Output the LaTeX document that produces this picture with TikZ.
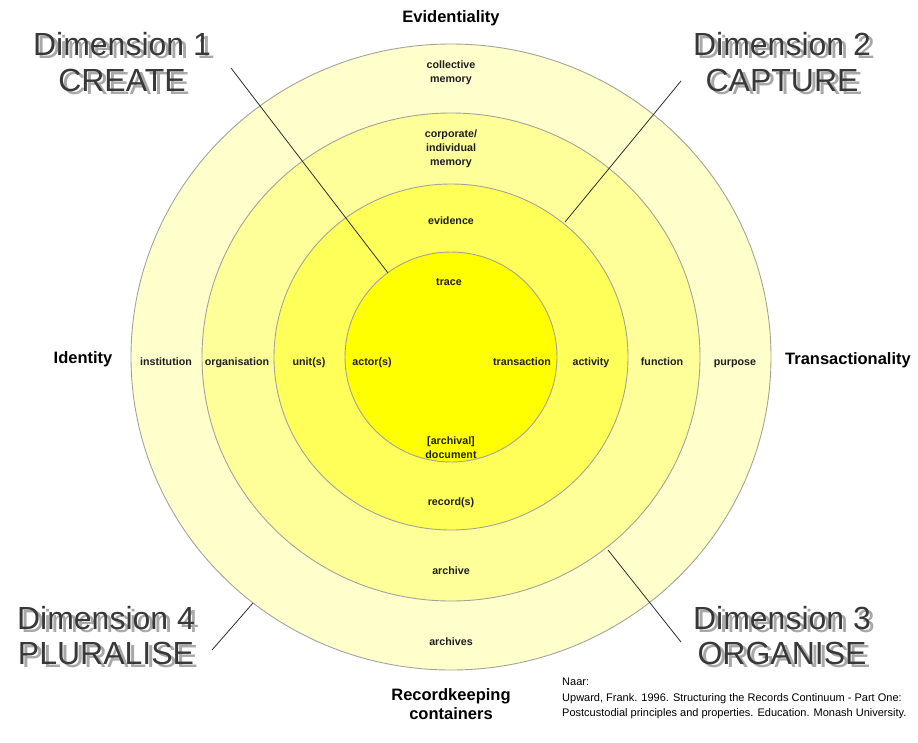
\documentclass[tikz,border=0pt]{standalone}
\usepackage{fontspec}
\setmainfont{Liberation Sans}
\usetikzlibrary{calc}

\definecolor{ringOuter}{HTML}{FFFFCC}
\definecolor{ringSecond}{HTML}{FFFF99}
\definecolor{ringThird}{HTML}{FFFF5A}
\definecolor{ringCore}{HTML}{FFFF00}
\definecolor{ringEdge}{HTML}{A3A39A}
\definecolor{dimFront}{HTML}{383838}
\definecolor{dimShadow}{HTML}{A8A8A8}
\definecolor{labelInk}{HTML}{1E1E1E}
\definecolor{leader}{HTML}{2E2E2E}

\tikzset{
  ring/.style={draw=ringEdge, line width=0.9pt},
  lbl/.style={inner sep=0pt, text=labelInk, font=\fontsize{10.7}{14}\selectfont\bfseries, align=center},
  lblbase/.style={lbl, anchor=base},
  axis/.style={inner sep=0pt, text=black, font=\fontsize{16.5}{19}\selectfont\bfseries, align=center},
  dimcap/.style={inner sep=0pt, anchor=base, text=dimFront, font=\fontsize{32}{36}\selectfont},
  leaderline/.style={draw=leader, line width=0.8pt},
  cite/.style={inner sep=0pt, anchor=north west, align=left, font=\fontsize{11}{15.5}\selectfont, text=black}
}

% caption text with a grey drop shadow set behind it
\newcommand\shadowed[1]{%
  \rlap{\kern4pt\raisebox{-3pt}{\textcolor{dimShadow}{#1}}}#1}

\begin{document}
\begin{tikzpicture}[x=1pt, y=-1pt]
\useasboundingbox (0,0) rectangle (918,742);
\fill[white] (0,0) rectangle (918,742);

% concentric continuum rings
\coordinate (c) at (451,357);
\draw[ring, fill=ringOuter]  (c) ellipse [x radius=320pt, y radius=313pt];
\draw[ring, fill=ringSecond] (c) ellipse [x radius=249pt, y radius=244pt];
\draw[ring, fill=ringThird]  (c) ellipse [x radius=177pt, y radius=173pt];
\draw[ring, fill=ringCore]   (c) ellipse [x radius=106pt, y radius=105pt];

% leader lines from the dimension captions to their rings
\coordinate (l1a) at (231,68);  \coordinate (l1b) at (388,273);
\coordinate (l2a) at (681,81);  \coordinate (l2b) at (565,222);
\coordinate (l3a) at (608,550); \coordinate (l3b) at (681,642);
\coordinate (l4a) at (212,650); \coordinate (l4b) at (253,603);
\draw[leaderline] (l1a) -- (l1b);
\draw[leaderline] (l2a) -- (l2b);
\draw[leaderline] (l3a) -- (l3b);
\draw[leaderline] (l4a) -- (l4b);

% axis titles
\node[axis] (evid) at (451,18) {Evidentiality};
\node[axis] (ident) at (83,359) {Identity};
\node[axis] (trans) at (848,360) {Transactionality};
\node[axis] (rkc) at (451,704) {Recordkeeping\\containers};

% vertical axis labels
\node[lbl] (colmem) at (451,73) {collective\\memory};
\node[lbl] (corpmem) at (451,149) {corporate/\\individual\\memory};
\node[lblbase] (evidence) at (451,224) {evidence};
\node[lblbase] (trace) at (449,285) {trace};
\node[lbl] (archdoc) at (451,448) {[archival]\\document};
\node[lblbase] (records) at (451,505) {record(s)};
\node[lblbase] (archive) at (451,574) {archive};
\node[lblbase] (archives) at (451,645) {archives};

% horizontal axis labels
\node[lblbase] (institution) at (166,365) {institution};
\node[lblbase] (organisation) at (237,365) {organisation};
\node[lblbase] (units) at (309,365) {unit(s)};
\node[lblbase] (actors) at (372,365) {actor(s)};
\node[lblbase] (transaction) at (522,365) {transaction};
\node[lblbase] (activity) at (591,365) {activity};
\node[lblbase] (function) at (662,365) {function};
\node[lblbase] (purpose) at (735,365) {purpose};

% dimension captions
\node[dimcap] (d1a) at (122,55) {\shadowed{Dimension 1}};
\node[dimcap] (d1b) at (122,91) {\shadowed{CREATE}};
\node[dimcap] (d2a) at (782,55) {\shadowed{Dimension 2}};
\node[dimcap] (d2b) at (782,91) {\shadowed{CAPTURE}};
\node[dimcap] (d3a) at (782,629) {\shadowed{Dimension 3}};
\node[dimcap] (d3b) at (782,664) {\shadowed{ORGANISE}};
\node[dimcap] (d4a) at (106,629) {\shadowed{Dimension 4}};
\node[dimcap] (d4b) at (106,664) {\shadowed{PLURALISE}};

% source reference
\node[cite] (source) at (562,678) {Naar:\\Upward, Frank. 1996. Structuring the Records Continuum - Part One:\\Postcustodial principles and properties. Education. Monash University.};
\end{tikzpicture}
\end{document}
